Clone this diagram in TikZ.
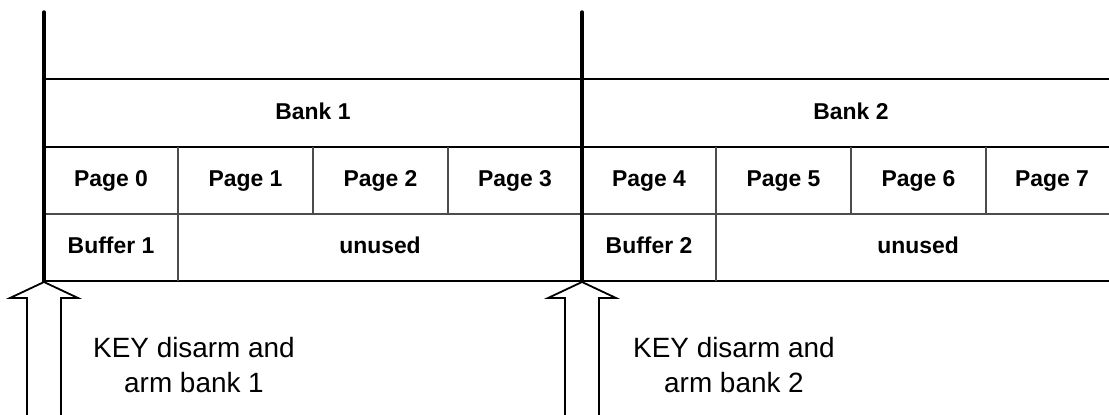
\documentclass[tikz,border=0pt]{standalone}
\usepackage{fontspec}
\setmainfont{Liberation Sans}
\usepackage{tikz}

\begin{document}
\begin{tikzpicture}[x=1bp, y=-1bp,
    cell/.style={font=\fontsize{23}{27}\selectfont\bfseries, inner sep=0pt, text height=16.5bp, text depth=4.5bp},
    keytext/.style={font=\fontsize{28}{35}\selectfont, align=center, inner sep=0pt},
    divider/.style={draw=black!70, line width=1.3bp},
    bankline/.style={line width=3.5bp, line cap=round},
    blockarrow/.style={draw, line width=1.8bp, fill=white, line join=miter}]
  \useasboundingbox (0,0) rectangle (1109,414);
  % rows
  \draw[line width=2bp] (44,79) -- (1109,79);
  \draw[line width=2bp] (44,147) -- (1109,147);
  \draw[divider] (44,214) -- (1109,214);
  \draw[line width=1.3bp] (44,281) -- (1109,281);
  % page columns
  \foreach \x in {178,313,448,716,851,986}
    \draw[divider] (\x,147) -- (\x,214);
  \draw[divider] (178,214) -- (178,281);
  \draw[divider] (716,214) -- (716,281);
  % labels
  \node[cell] (bank1) at (313,113) {Bank 1};
  \node[cell] (bank2) at (851,113) {Bank 2};
  \foreach \i/\x in {0/111,1/245.5,2/380.5,3/515,4/649,5/783.5,6/918.5,7/1052}
    \node[cell] (p\i) at (\x,180.5) {Page \i};
  \node[cell] (buf1) at (111,247.5) {Buffer 1};
  \node[cell] (unused1) at (380,247.5) {unused};
  \node[cell] (buf2) at (649,247.5) {Buffer 2};
  \node[cell] (unused2) at (918,247.5) {unused};
  % bank boundaries
  \draw[bankline] (44,12) -- (44,282);
  \draw[bankline] (582,12) -- (582,282);
  % KEY arrows
  \draw[blockarrow] (44,282) -- (78,298) -- (61,298) -- (61,420) -- (27,420) -- (27,298) -- (10,298) -- cycle;
  \draw[blockarrow] (582,282) -- (616,298) -- (599,298) -- (599,420) -- (565,420) -- (565,298) -- (548,298) -- cycle;
  \node[keytext] (key1) at (194,365) {KEY disarm and\\arm bank 1};
  \node[keytext] (key2) at (734,365) {KEY disarm and\\arm bank 2};
\end{tikzpicture}
\end{document}
